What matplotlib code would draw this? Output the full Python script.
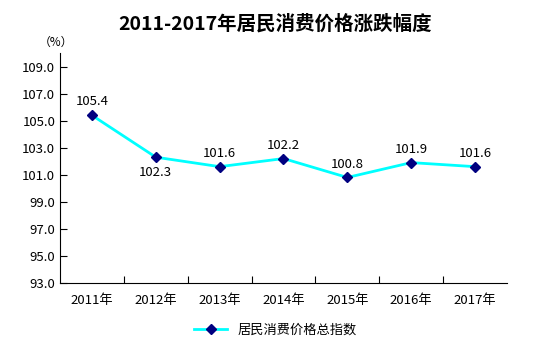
import matplotlib
matplotlib.use("Agg")
import matplotlib.pyplot as plt

plt.rcParams['font.family'] = ['Noto Sans CJK SC', 'DejaVu Sans']

years = ['2011年', '2012年', '2013年', '2014年', '2015年', '2016年', '2017年']
cpi = [105.4, 102.3, 101.6, 102.2, 100.8, 101.9, 101.6]
label_above = [True, False, True, True, True, True, True]
yticks = [93.0, 95.0, 97.0, 99.0, 101.0, 103.0, 105.0, 107.0, 109.0]

fig = plt.figure(figsize=(5.51, 3.59), dpi=100)
ax = fig.add_axes([0.109, 0.212, 0.811, 0.64])

x = list(range(len(years)))
ax.plot(x, cpi, color='#00FFFF', lw=2, marker='D', ms=5,
        markerfacecolor='#000080', markeredgecolor='#000080',
        label='居民消费价格总指数')

for xi, v, up in zip(x, cpi, label_above):
    ax.annotate(f'{v:.1f}', (xi, v), xytext=(0, 5 if up else -6),
                textcoords='offset points', ha='center',
                va='bottom' if up else 'top', fontsize=9.5)

ax.set_xlim(-0.5, len(years) - 0.5)
ax.set_ylim(93, 110)
ax.set_yticks(yticks)
ax.set_yticklabels([f'{t:.1f}' for t in yticks], fontsize=9.5)
ax.set_xticks([i + 0.5 for i in range(len(years) - 1)], minor=False)
ax.set_xticklabels([])
ax.set_xticks(x, minor=True)
ax.set_xticklabels(years, minor=True, fontsize=9.5)
ax.tick_params(axis='x', which='minor', length=0, pad=8)
ax.tick_params(axis='x', which='major', direction='in', length=5)
ax.tick_params(axis='y', direction='in', length=5)

for s in ['top', 'right']:
    ax.spines[s].set_visible(False)

ax.text(-0.01, 1.02, '（%）', transform=ax.transAxes, ha='center',
        va='bottom', fontsize=8.5)
fig.suptitle('2011-2017年居民消费价格涨跌幅度', y=0.96, fontsize=14,
             fontweight='bold')

fig.legend(loc='lower center', bbox_to_anchor=(0.5, 0.03), frameon=False,
           fontsize=9.5, handlelength=2.5)

fig.savefig('out.png', dpi=100)
